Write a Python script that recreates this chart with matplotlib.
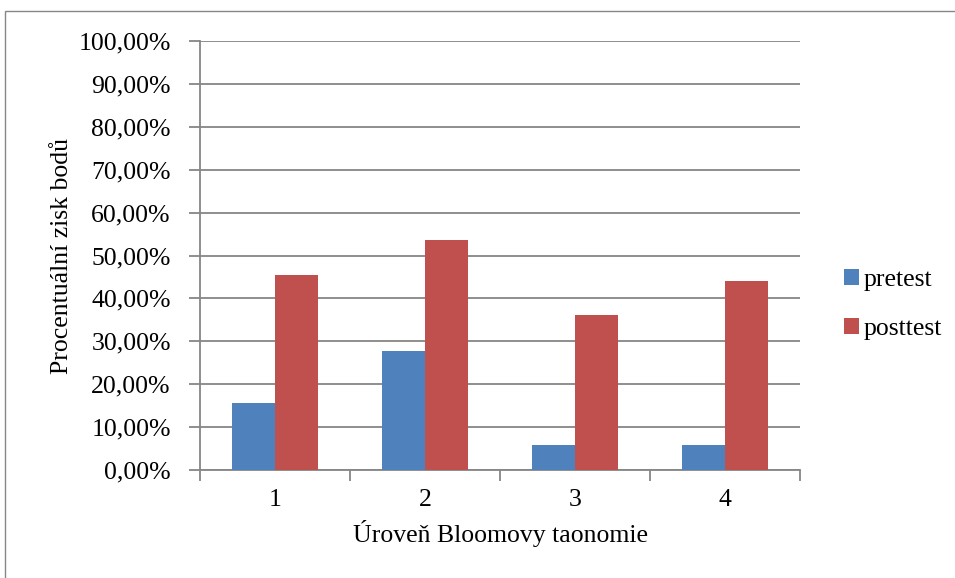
import matplotlib
matplotlib.use("Agg")
import matplotlib.pyplot as plt
from matplotlib.patches import Rectangle
from matplotlib.ticker import FuncFormatter, MultipleLocator, FixedLocator
import numpy as np

levels = ["1", "2", "3", "4"]
pretest = [15.6, 27.7, 5.8, 5.8]
posttest = [45.5, 53.6, 36.2, 44.1]
series_names = ["pretest", "posttest"]

plt.rcParams['font.family'] = ['Liberation Serif', 'DejaVu Serif']

fig = plt.figure(figsize=(9.55, 5.78), dpi=100)
W, H = 955, 578
ax = fig.add_axes([200 / W, 1 - 470 / H, 600 / W, 429 / H])

grey = "#868686"
blue = "#4F81BD"
red = "#C0504D"
fs = 18.5

x = np.arange(len(levels)) + 1
bw = 0.287
ax.bar(x - bw / 2, pretest, width=bw, color=blue, label=series_names[0], zorder=3)
ax.bar(x + bw / 2, posttest, width=bw, color=red, label=series_names[1], zorder=3)

ax.set_xlim(0.5, 4.5)
ax.set_ylim(0, 100)

ax.yaxis.set_major_locator(MultipleLocator(10))
ax.yaxis.set_major_formatter(FuncFormatter(lambda v, p: f"{v:.2f}".replace(".", ",") + "%"))
ax.grid(axis="y", color=grey, linewidth=1.3, zorder=0)

# category ticks sit on the boundaries; labels centred between them
ax.xaxis.set_major_locator(FixedLocator(np.arange(0.5, 4.6, 1.0)))
ax.xaxis.set_major_formatter(FuncFormatter(lambda v, p: ""))
ax.xaxis.set_minor_locator(FixedLocator(x))
ax.set_xticklabels(levels, minor=True)
ax.tick_params(axis="x", which="minor", length=0, labelsize=fs, pad=14)
ax.tick_params(axis="x", which="major", length=8, width=1.3, color=grey)
ax.tick_params(axis="y", length=8, width=1.3, color=grey, labelsize=fs, pad=13)

for side in ("top", "right"):
    ax.spines[side].set_visible(False)
for side in ("left", "bottom"):
    ax.spines[side].set_color(grey)
    ax.spines[side].set_linewidth(1.3)

ax.set_xlabel("Úroveň Bloomovy taonomie", fontsize=fs, labelpad=6)
ax.set_ylabel("Procentuální zisk bodů", fontsize=fs, labelpad=4)

leg = fig.legend(loc="upper left", bbox_to_anchor=(823 / W, 1 - 248 / H),
                 frameon=False, fontsize=fs, handlelength=0.6, handleheight=0.6,
                 handletextpad=0.2, labelspacing=1.05, borderpad=0.3)

# outer chart frame
fig.patches.append(Rectangle((5 / W, -0.05), 1.0, 1 - 11 / H + 0.05,
                             transform=fig.transFigure, fill=False,
                             edgecolor=grey, linewidth=1.0))

fig.savefig("out.png", dpi=100)
